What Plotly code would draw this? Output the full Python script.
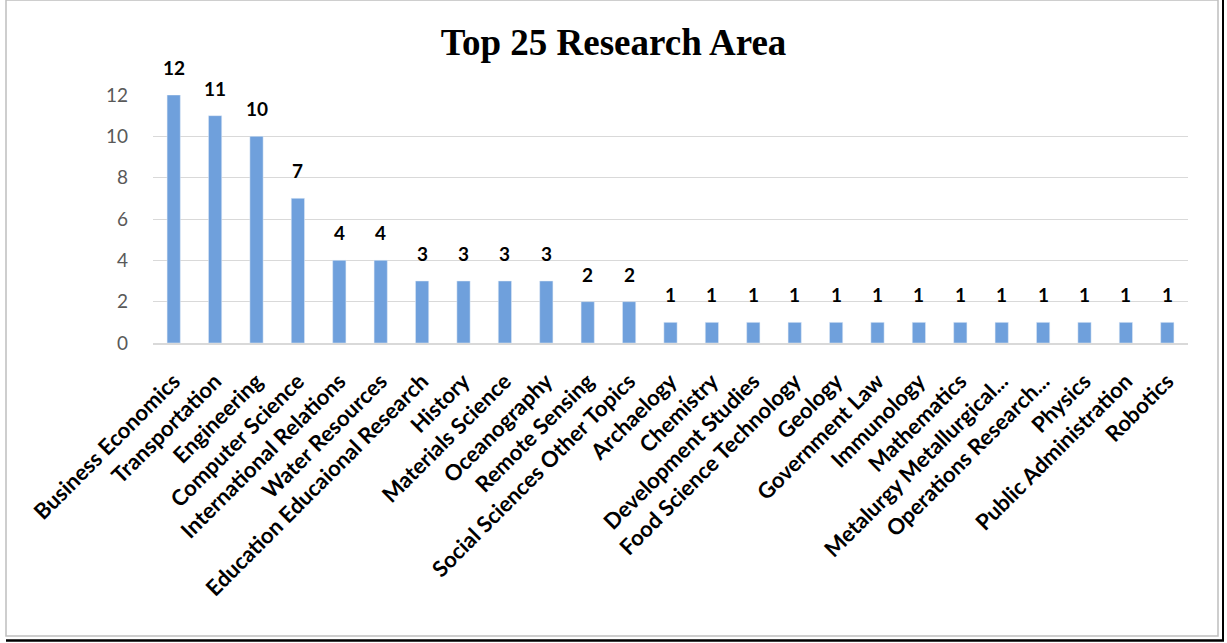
import plotly.graph_objects as go

categories = ["Business Economics", "Transportation", "Engineering", "Computer Science",
              "International Relations", "Water Resources", "Education Educaional Research",
              "History", "Materials Science", "Oceanography", "Remote Sensing",
              "Social Sciences Other Topics", "Archaelogy", "Chemistry", "Development Studies",
              "Food Science Technology", "Geology", "Government Law", "Immunology",
              "Mathematics", "Metalurgy Metallurgical...", "Operations Research...",
              "Physics", "Public Administration", "Robotics"]
values = [12, 11, 10, 7, 4, 4, 3, 3, 3, 3, 2, 2, 1, 1, 1, 1, 1, 1, 1, 1, 1, 1, 1, 1, 1]
y_ticks = [0, 2, 4, 6, 8, 10, 12]

W, H = 1227, 643
L, R, T, B = 153, 39, 95, 300
pw, ph = W - L - R, H - T - B

def px_x(p):
    return (p - L) / pw

def px_y(p):
    return (H - B - p) / ph

fig = go.Figure(go.Bar(
    x=categories, y=values,
    marker_color="#6FA0DC",
    hoverinfo="x+y",
))

annotations = [
    dict(x=c, y=v, xref="x", yref="y", text=str(v), showarrow=False,
         yanchor="bottom", yshift=14,
         font=dict(family="Lato", size=19, color="#000000", weight="bold"))
    for c, v in zip(categories, values)
]

fig.update_layout(
    width=W, height=H,
    margin=dict(l=L, r=R, t=T, b=B),
    paper_bgcolor="white", plot_bgcolor="white",
    bargap=0.68,
    showlegend=False,
    annotations=annotations,
    title=dict(text="<b>Top 25 Research Area</b>", x=0.5, xanchor="center",
               y=1 - 42 / H, yanchor="middle",
               font=dict(family="Liberation Serif", size=37, color="#000000")),
    xaxis=dict(tickangle=-45, tickfont=dict(family="Lato", size=22, color="#000000", weight="bold"),
               showgrid=False, showline=True, linecolor="#d9d9d9", linewidth=1.5,
               ticks="", ticklabelstandoff=15, automargin=False),
    yaxis=dict(range=[0, 12], tickvals=y_ticks, showgrid=True, gridcolor="#d9d9d9",
               gridwidth=1.2, zeroline=False, showline=False, ticks="",
               tickfont=dict(family="Lato", size=19, color="#595959"),
               ticklabelstandoff=24, automargin=False),
    shapes=[
        dict(type="rect", xref="paper", yref="paper",
             x0=px_x(6), x1=px_x(1218), y0=px_y(636), y1=px_y(0),
             line=dict(color="#bfbfbf", width=1.5)),
        dict(type="line", xref="paper", yref="paper",
             x0=px_x(6), x1=px_x(1224), y0=px_y(640.5), y1=px_y(640.5),
             line=dict(color="#000000", width=2.5)),
        dict(type="line", xref="paper", yref="paper",
             x0=px_x(1223), x1=px_x(1223), y0=px_y(641), y1=px_y(0),
             line=dict(color="#000000", width=2)),
    ],
)

fig.write_html("out.html", config={"displayModeBar": False},
               post_script="document.body.style.margin='0';document.body.style.overflow='hidden';")
